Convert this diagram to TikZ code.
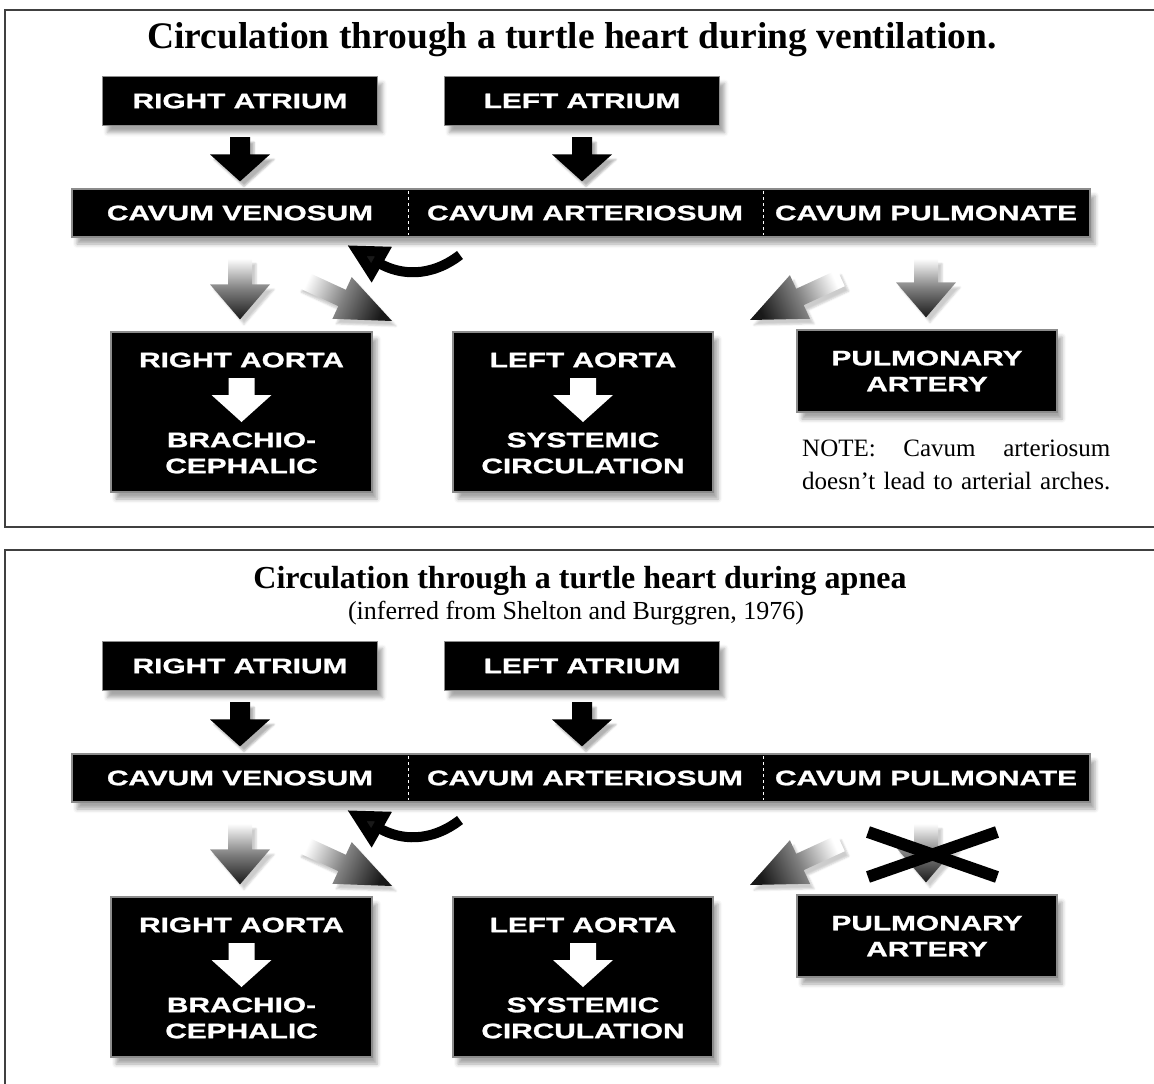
\documentclass[tikz,border=0pt]{standalone}
\usepackage{fontspec}
\setmainfont{Liberation Serif}
\newfontfamily\boxfont[FakeStretch=1.42,FakeBold=1.2]{Liberation Sans}
\usetikzlibrary{calc,positioning,arrows.meta,shadows.blur}

\tikzset{
  frame/.style={draw=black!75, line width=2pt},
  boxnode/.style={fill=black, draw=black!45, line width=1.2pt, inner sep=0pt,
    blur shadow={shadow xshift=5pt, shadow yshift=-7pt, shadow blur radius=4pt, shadow opacity=35}},
  boxlabel/.style={text=white, font=\boxfont\bfseries\fontsize{21}{26}\selectfont, align=center, inner sep=0pt},
  titletext/.style={font=\bfseries\fontsize{32}{36}\selectfont, inner sep=0pt},
  subtext/.style={font=\fontsize{26}{30}\selectfont, inner sep=0pt},
  notetext/.style={font=\fontsize{25}{33}\selectfont, inner sep=0pt, align=left},
  septum/.style={draw=white, dashed, line width=1pt},
  downarrow/.style={fill=black, blur shadow={shadow xshift=4pt, shadow yshift=-5pt, shadow opacity=30}},
  innerarrow/.style={fill=white},
  fadearrow/.style={top color=white, bottom color=black!90, middle color=black!50, shading angle=\shadang,
    blur shadow={shadow xshift=4pt, shadow yshift=-5pt, shadow opacity=20}},
}

% block arrow between two named coordinates:
% #2 from, #3 to, #4 shaft half width, #5 head half width, #6 head length
\newcommand\flowarrow[6][downarrow]{%
  \path let \p1=($(#3)-(#2)$) in
    \pgfextra{\pgfmathsetmacro\arrlen{veclen(\x1,\y1)}\xdef\arrlen{\arrlen}%
              \pgfmathsetmacro\arrang{atan2(\y1,\x1)}\xdef\arrang{\arrang}%
              \pgfmathsetmacro\shadang{\arrang+90}\xdef\shadang{\shadang}};
  \path[#1, shift={(#2)}, rotate=\arrang]
    (0,-#4) -- ({\arrlen-#6},-#4) -- ({\arrlen-#6},-#5) -- (\arrlen,0)
    -- ({\arrlen-#6},#5) -- ({\arrlen-#6},#4) -- (0,#4) -- cycle;
}

\begin{document}
\begin{tikzpicture}[x=1pt,y=-1pt]
   \useasboundingbox (0,0) rectangle (1154,1084);
   \draw[frame] (1154,10) -- (5,10) -- (5,527) -- (1154,527);
   \draw[frame] (1154,550) -- (5,550) -- (5,1084);

   \node[titletext,font=\bfseries\fontsize{37.5}{40}\selectfont] (title1) at (572,40) {Circulation through a turtle heart during ventilation.};
   \node[titletext] (title2) at (580,581) {Circulation through a turtle heart during apnea};
   \node[subtext] (source2) at (576,613) {(inferred from Shelton and Burggren, 1976)};

   \foreach \k/\dy in {1/0,2/565}{
   \begin{scope}[yshift=-\dy pt]
     % atria and ventricle
     \node[boxnode,boxlabel,minimum width=275pt,minimum height=49pt] (ra\k) at (240,101) {RIGHT ATRIUM};
     \node[boxnode,boxlabel,minimum width=275pt,minimum height=49pt] (la\k) at (582,101) {LEFT ATRIUM};
     \node[boxnode,minimum width=1018pt,minimum height=48pt] (bar\k) at (581,213) {};
     \node[boxlabel] (cv\k) at (240,213) {CAVUM VENOSUM};
     \node[boxlabel] (ca\k) at (585,213) {CAVUM ARTERIOSUM};
     \node[boxlabel] (cp\k) at (926,213) {CAVUM PULMONATE};
     \draw[septum] (408,191) -- (408,235);
     \draw[septum] (763,191) -- (763,235);
     % arches
     \node[boxnode,minimum width=261pt,minimum height=160pt] (rao\k) at (241.5,412) {};
     \node[boxlabel] (raot\k) at (241.5,360) {RIGHT AORTA};
     \node[boxlabel] (brach\k) at (241.5,453) {BRACHIO-\\CEPHALIC};
     \node[boxnode,minimum width=260pt,minimum height=160pt] (lao\k) at (583,412) {};
     \node[boxlabel] (laot\k) at (583,360) {LEFT AORTA};
     \node[boxlabel] (syst\k) at (583,453) {SYSTEMIC\\CIRCULATION};
     \node[boxnode,boxlabel,minimum width=260pt,minimum height=82pt] (pa\k) at (927,371) {PULMONARY\\ARTERY};

     \coordinate (raa\k) at ($(ra\k.south)+(0,11)$);
     \coordinate (rab\k) at ($(ra\k.south |- bar\k.north)+(0,-7)$);
     \coordinate (laa\k) at ($(la\k.south)+(0,11)$);
     \coordinate (lab\k) at ($(la\k.south |- bar\k.north)+(0,-7)$);
     \coordinate (cva\k) at ($(cv\k |- bar\k.south)+(0,21)$);
     \coordinate (cvb\k) at ($(cv\k |- rao\k.north)+(0,-12)$);
     \coordinate (cvc\k) at (301,279);
     \coordinate (cvd\k) at (392,321);
     \coordinate (cpa\k) at (841,278);
     \coordinate (cpb\k) at (750,320);
     \coordinate (cpc\k) at ($(cp\k |- bar\k.south)+(0,21)$);
     \coordinate (cpd\k) at ($(cp\k |- pa\k.north)+(0,-12)$);
     \coordinate (caa\k) at (460,255);
     \coordinate (cab\k) at (347,245);
     \coordinate (raw\k) at ($(rao\k.center)+(0,-34)$);
     \coordinate (raz\k) at ($(rao\k.center)+(0,10)$);
     \coordinate (law\k) at ($(lao\k.center)+(0,-34)$);
     \coordinate (laz\k) at ($(lao\k.center)+(0,10)$);

     \flowarrow{raa\k}{rab\k}{10}{30}{27}
     \flowarrow{laa\k}{lab\k}{10}{30}{27}
     \flowarrow[fadearrow]{cva\k}{cvb\k}{12}{30}{35}
     \flowarrow[fadearrow]{cvc\k}{cvd\k}{9}{23}{55}
     \flowarrow[fadearrow]{cpa\k}{cpb\k}{9}{24}{55}
     \flowarrow[fadearrow]{cpc\k}{cpd\k}{12}{30}{35}
     \flowarrow[innerarrow]{raw\k}{raz\k}{13}{30}{27}
     \flowarrow[innerarrow]{law\k}{laz\k}{13}{30}{27}
     \draw[line width=10pt, -{Triangle[length=40pt,width=38pt]}]
       (caa\k) .. controls (430,278) and (400,275) .. (cab\k);
   \end{scope}}

   % apnea: no flow to the lungs
   \draw[line width=12pt] (868,832) -- (997,877);
   \draw[line width=12pt] (868,877) -- (997,832);

   \node[notetext,anchor=north west] (note1) at (802,440)
     {\makebox[308pt][s]{NOTE: Cavum arteriosum}\\\makebox[308pt][s]{doesn’t lead to arterial arches.}};
\end{tikzpicture}
\end{document}
